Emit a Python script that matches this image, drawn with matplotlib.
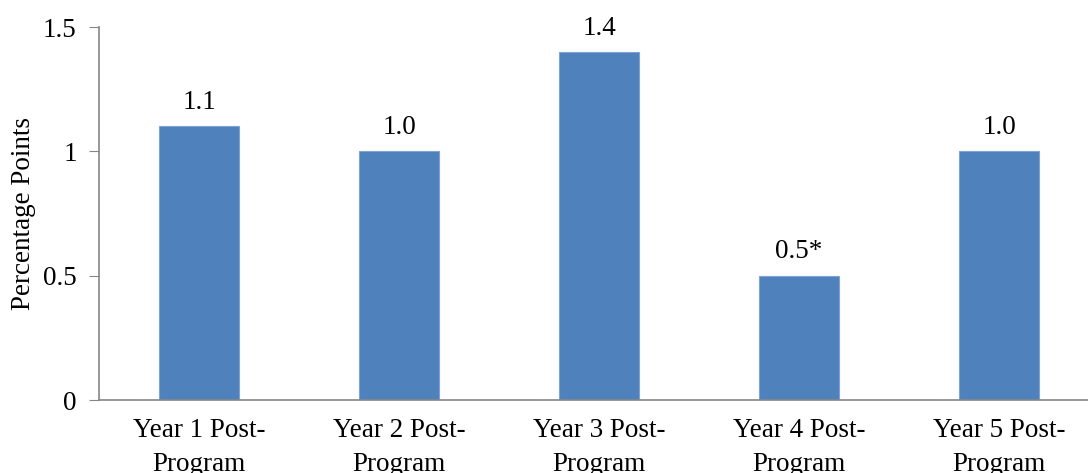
import matplotlib.pyplot as plt

categories = ["Year 1 Post-\nProgram", "Year 2 Post-\nProgram", "Year 3 Post-\nProgram",
              "Year 4 Post-\nProgram", "Year 5 Post-\nProgram"]
values = [1.1, 1.0, 1.4, 0.5, 1.0]
value_labels = ["1.1", "1.0", "1.4", "0.5*", "1.0"]

plt.rcParams['font.family'] = ['Liberation Serif', 'DejaVu Serif']
fs = 19.5

fig = plt.figure(figsize=(10.88, 4.73), dpi=100)
ax = fig.add_axes([99 / 1088, 1 - 400 / 473, 1000 / 1088, 373 / 473])

pos = range(len(categories))
ax.bar(pos, values, width=0.4, color="#4F81BD", edgecolor="#7FA3D3", linewidth=0.8)

for x, y, t in zip(pos, values, value_labels):
    ax.text(x, y + 0.045, t, ha="center", va="bottom", fontsize=fs)

ax.set_xlim(-0.5, 4.5)
ax.set_ylim(0, 1.5)
ax.set_yticks([0, 0.5, 1, 1.5])
ax.set_yticklabels(["0", "0.5", "1", "1.5"])
ax.set_xticks(list(pos))
ax.set_xticklabels(categories, fontsize=fs, linespacing=1.45)
ax.tick_params(axis="x", length=0, pad=13)
ax.tick_params(axis="y", length=7, color="#868686", labelsize=fs, pad=9)

for s in ["top", "right"]:
    ax.spines[s].set_visible(False)
for s in ["left", "bottom"]:
    ax.spines[s].set_color("#868686")
    ax.spines[s].set_linewidth(1.2)

ax.set_ylabel("Percentage Points", fontsize=fs, labelpad=5)

plt.savefig("out.png")
